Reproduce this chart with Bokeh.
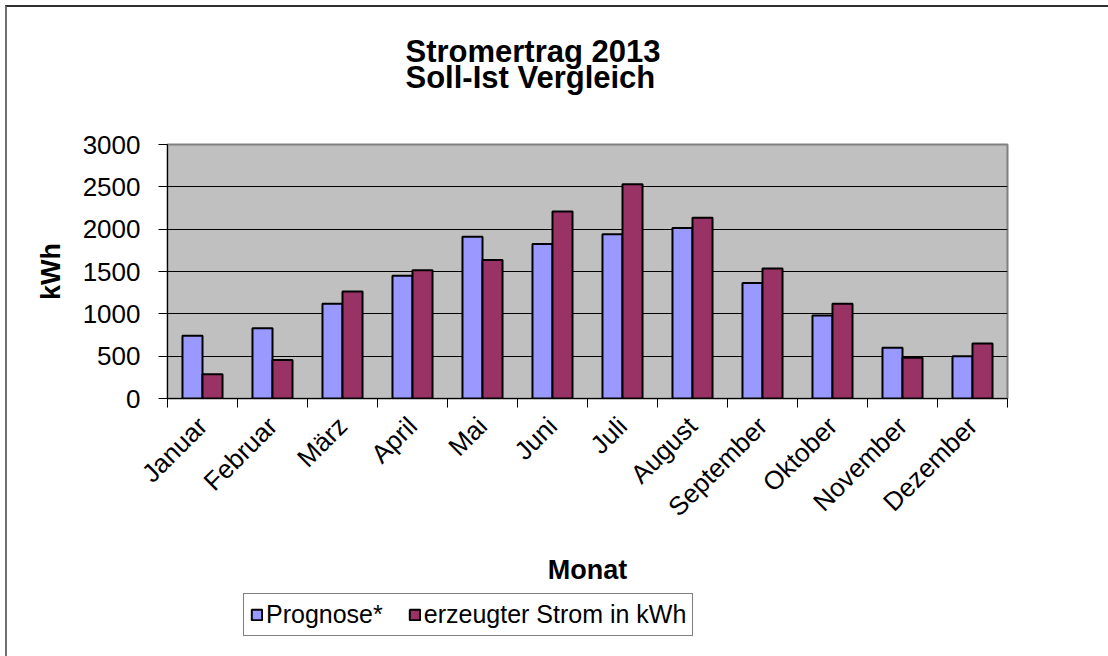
import numpy as np
from bokeh.plotting import figure
from bokeh.layouts import column
from bokeh.models import ColumnDataSource, FixedTicker, Legend, LegendItem, Range1d, Title
from bokeh.transform import dodge
from bokeh.embed import file_html
from bokeh.resources import INLINE

months = ["Januar", "Februar", "März", "April", "Mai", "Juni", "Juli",
          "August", "September", "Oktober", "November", "Dezember"]
prognose = [740, 830, 1120, 1450, 1910, 1825, 1940, 2015, 1365, 980, 600, 500]
erzeugt = [285, 455, 1265, 1515, 1635, 2210, 2530, 2135, 1535, 1120, 480, 650]
y_ticks = [0, 500, 1000, 1500, 2000, 2500, 3000]
series_names = ["Prognose*", "erzeugter Strom in kWh"]
colors = ["#9999FF", "#993366"]

FONT = "Liberation Sans"

x = np.arange(len(months)) + 0.5
src = ColumnDataSource(dict(x=x, prog=prognose, ist=erzeugt, month=months))

W = 1101
p = figure(width=W, height=586, x_range=Range1d(0, len(months)), y_range=Range1d(0, 3000),
           output_backend="svg", toolbar_location=None,
           min_border_left=160, min_border_right=101, min_border_top=137, min_border_bottom=195)

p.background_fill_color = "#C0C0C0"
p.border_fill_color = "white"
p.outline_line_color = "#808080"
p.outline_line_width = 2

bw = 0.286
p.vbar(x=dodge("x", -bw / 2), top="prog", width=bw, source=src,
       fill_color=colors[0], line_color="black", line_width=2)
p.vbar(x=dodge("x", bw / 2), top="ist", width=bw, source=src,
       fill_color=colors[1], line_color="black", line_width=2)

p.xgrid.visible = False
p.ygrid.grid_line_color = "black"
p.ygrid.grid_line_width = 1

xa = p.xaxis[0]
xa.ticker = FixedTicker(ticks=list(x), minor_ticks=list(range(len(months) + 1)))
xa.major_label_overrides = {float(v): m for v, m in zip(x, months)}
xa.major_tick_line_color = None
xa.minor_tick_line_color = "black"
xa.minor_tick_in = 0
xa.minor_tick_out = 9
xa.major_label_orientation = np.pi / 4
xa.major_label_standoff = 14
xa.major_label_text_font = FONT
xa.major_label_text_font_size = "26px"
xa.major_label_text_color = "black"
xa.axis_line_color = "black"
xa.axis_label = "Monat"
xa.axis_label_text_font = FONT
xa.axis_label_text_font_size = "27px"
xa.axis_label_text_font_style = "bold"
xa.axis_label_text_color = "black"
xa.axis_label_standoff = 19

ya = p.yaxis[0]
ya.ticker = FixedTicker(ticks=y_ticks)
ya.major_tick_in = 0
ya.major_tick_out = 9
ya.major_tick_line_color = "black"
ya.minor_tick_line_color = None
ya.axis_line_color = "black"
ya.major_label_standoff = 18
ya.major_label_text_font = FONT
ya.major_label_text_font_size = "26px"
ya.major_label_text_color = "black"
ya.axis_label = "kWh"
ya.axis_label_text_font = FONT
ya.axis_label_text_font_size = "27px"
ya.axis_label_text_font_style = "bold"
ya.axis_label_text_color = "black"
ya.axis_label_standoff = 14

# spacer between frame and title, then the two-line title
spacer = Title(text=" ", standoff=44, text_font_size="1px", text_color="white")
p.add_layout(spacer, "above")
title = Title(text="Stromertrag 2013\nSoll-Ist Vergleich", align="left", offset=238, standoff=4,
              text_font=FONT, text_font_size="31px", text_font_style="bold",
              text_color="black", text_line_height=0.76)
p.add_layout(title, "above")

# legend strip below the chart
lg = figure(width=W, height=63, x_range=Range1d(0, len(months)), y_range=Range1d(0, 3000),
            output_backend="svg", toolbar_location=None,
            x_axis_location=None, y_axis_location=None,
            min_border_left=160, min_border_right=101, min_border_top=0, min_border_bottom=0)
lg.grid.visible = False
lg.outline_line_color = None
lg.background_fill_color = "white"
lg.border_fill_color = "white"
l1 = lg.vbar(x="x", top="prog", width=bw, source=src, visible=False,
             fill_color=colors[0], line_color="black", line_width=2)
l2 = lg.vbar(x="x", top="ist", width=bw, source=src, visible=False,
             fill_color=colors[1], line_color="black", line_width=2)

legend = Legend(items=[LegendItem(label=series_names[0], renderers=[l1]),
                       LegendItem(label=series_names[1], renderers=[l2])],
                orientation="horizontal", location=(76, 20),
                border_line_color="black", border_line_width=1,
                background_fill_color="white", background_fill_alpha=1,
                inactive_fill_alpha=0,
                label_text_font=FONT, label_text_font_size="25px", label_text_color="black",
                glyph_width=13, glyph_height=13, label_standoff=3, spacing=25,
                padding=6, margin=0)
lg.add_layout(legend, "center")

layout = column(p, lg, spacing=0)
layout.styles = {"border-left": "2px solid #707070", "border-top": "2px solid #303030",
                 "margin-left": "5px", "margin-top": "5px"}

open("out.html", "w").write(file_html(layout, INLINE))
